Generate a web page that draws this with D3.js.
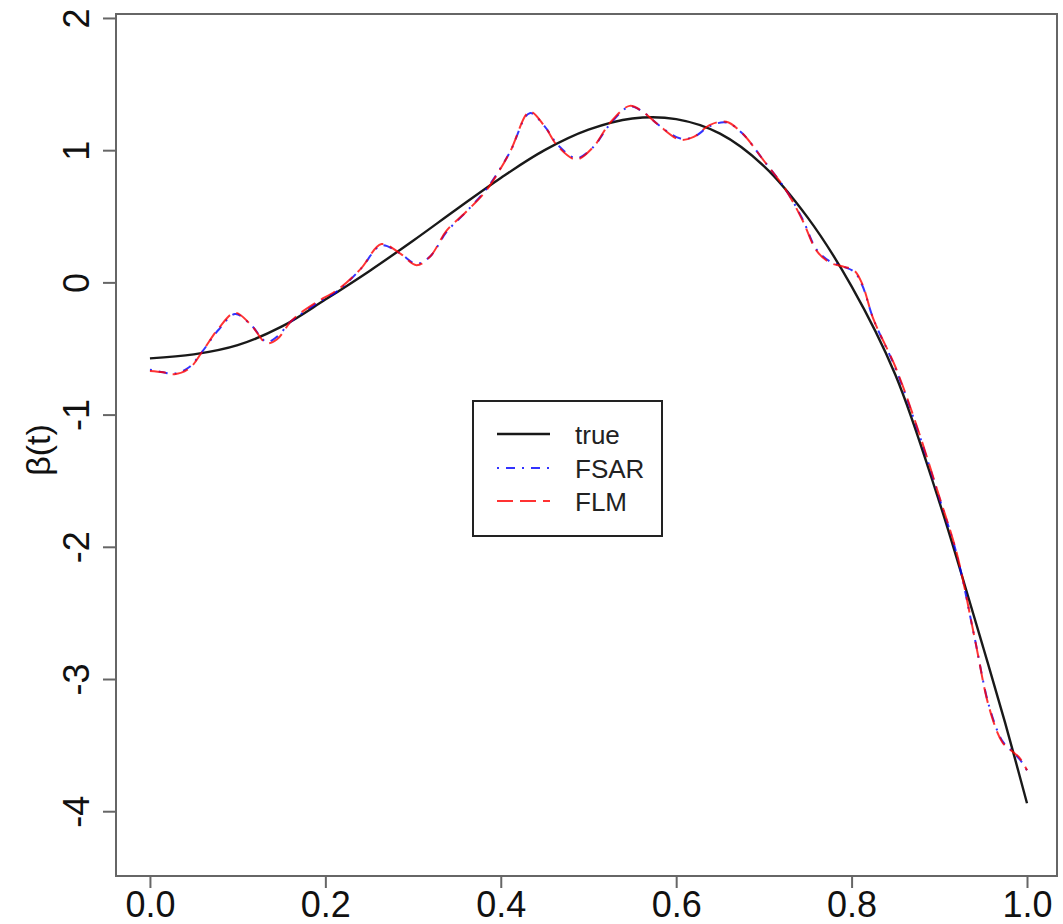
<!DOCTYPE html>
<html>
<head>
<meta charset="utf-8">
<script src="https://cdn.jsdelivr.net/npm/d3@7"></script>
<style>
  html, body { margin: 0; padding: 0; background: #fff; }
  svg { display: block; font-family: "Liberation Sans", Arial, sans-serif; }
</style>
</head>
<body>
<svg id="chart" width="1063" height="924"></svg>
<script>
// ---- data ----
const xTicks = [0.0, 0.2, 0.4, 0.6, 0.8, 1.0];
const yTicks = [2, 1, 0, -1, -2, -3, -4];

const trueT = [0, 0.05, 0.1, 0.15, 0.2, 0.25, 0.3, 0.35, 0.4, 0.45, 0.5, 0.55, 0.6, 0.65, 0.7, 0.75, 0.8, 0.85, 0.9, 0.925, 0.95, 0.975, 1.0];
const trueB = [-0.575, -0.545, -0.475, -0.335, -0.13, 0.085, 0.315, 0.555, 0.79, 1.00, 1.155, 1.24, 1.235, 1.125, 0.88, 0.49, -0.03, -0.70, -1.66, -2.20, -2.76, -3.33, -3.94];

const flmT = [0, 0.015, 0.028, 0.045, 0.06, 0.078, 0.097, 0.115, 0.133, 0.145, 0.16, 0.17, 0.19, 0.215, 0.24, 0.264, 0.285, 0.304, 0.32, 0.338, 0.36, 0.384, 0.41, 0.433, 0.45, 0.465, 0.486, 0.505, 0.525, 0.547, 0.562, 0.58, 0.604, 0.62, 0.638, 0.657, 0.675, 0.7, 0.725, 0.744, 0.76, 0.775, 0.79, 0.803, 0.812, 0.825, 0.85, 0.875, 0.9, 0.92, 0.94, 0.957, 0.972, 0.982, 0.992, 1.0];
const flmB = [-0.67, -0.68, -0.695, -0.65, -0.52, -0.35, -0.23, -0.32, -0.46, -0.43, -0.30, -0.24, -0.15, -0.05, 0.10, 0.29, 0.22, 0.13, 0.20, 0.39, 0.53, 0.70, 0.98, 1.29, 1.18, 1.03, 0.93, 1.02, 1.21, 1.335, 1.29, 1.19, 1.08, 1.10, 1.19, 1.215, 1.13, 0.92, 0.70, 0.47, 0.24, 0.15, 0.12, 0.09, -0.01, -0.28, -0.64, -1.10, -1.62, -2.05, -2.68, -3.22, -3.48, -3.54, -3.60, -3.69];

const fsarT = flmT;
const fsarB = [-0.66, -0.68, -0.69, -0.64, -0.52, -0.36, -0.24, -0.32, -0.45, -0.41, -0.30, -0.25, -0.16, -0.06, 0.10, 0.28, 0.22, 0.14, 0.20, 0.38, 0.53, 0.71, 0.98, 1.28, 1.18, 1.04, 0.94, 1.02, 1.20, 1.33, 1.29, 1.19, 1.09, 1.10, 1.18, 1.21, 1.13, 0.92, 0.70, 0.48, 0.25, 0.16, 0.12, 0.08, -0.02, -0.28, -0.65, -1.11, -1.63, -2.06, -2.68, -3.21, -3.47, -3.54, -3.61, -3.69];

const legendLabels = ["true", "FSAR", "FLM"];
const seriesColors = ["#000000", "#0000ff", "#ff0000"];
const seriesDash = [null, "2,7,9,7", "16,7"];

// ---- layout ----
const svg = d3.select("#chart");
const plot = { left: 116, right: 1057, top: 14, bottom: 876 };

const x = d3.scaleLinear().domain([-0.0387, 1.0342]).range([plot.left, plot.right]);
const y = d3.scaleLinear().domain([-4.49, 2.03]).range([plot.bottom, plot.top]);

// box
svg.append("rect")
  .attr("x", plot.left).attr("y", plot.top)
  .attr("width", plot.right - plot.left).attr("height", plot.bottom - plot.top)
  .attr("fill", "none").attr("stroke", "#666").attr("stroke-width", 2);

// x axis
const xAxis = d3.axisBottom(x).tickValues(xTicks).tickFormat(d3.format(".1f")).tickSize(12).tickPadding(3);
const gx = svg.append("g").attr("transform", `translate(0,${plot.bottom})`).call(xAxis);
gx.select(".domain").attr("stroke", "#666").attr("stroke-width", 2)
  .attr("d", `M${x(0)},0H${x(1)}`);
gx.selectAll(".tick line").attr("stroke", "#666").attr("stroke-width", 2);
gx.selectAll(".tick text").attr("font-size", 36).attr("fill", "#111")
  .attr("font-family", "Liberation Sans, Arial, sans-serif");

// y axis
const yAxis = d3.axisLeft(y).tickValues(yTicks).tickFormat(d => String(d)).tickSize(13);
const gy = svg.append("g").attr("transform", `translate(${plot.left},0)`).call(yAxis);
gy.select(".domain").attr("stroke", "#666").attr("stroke-width", 2)
  .attr("d", `M0,${y(-4)}V${y(2)}`);
gy.selectAll(".tick line").attr("stroke", "#666").attr("stroke-width", 2);
gy.selectAll(".tick text")
  .attr("font-size", 36).attr("fill", "#111")
  .attr("font-family", "Liberation Sans, Arial, sans-serif")
  .attr("x", null).attr("dy", null)
  .attr("text-anchor", "middle")
  .attr("transform", "translate(-27,0) rotate(-90)");

// y label
svg.append("text")
  .attr("transform", `translate(50,${(plot.top + plot.bottom) / 2 + 5}) rotate(-90)`)
  .attr("text-anchor", "middle")
  .attr("font-size", 34).attr("fill", "#111")
  .text("β(t)");

// lines
const line = d3.line().x(d => x(d[0])).y(d => y(d[1])).curve(d3.curveCatmullRom.alpha(0.5));
const series = [
  d3.zip(trueT, trueB),
  d3.zip(fsarT, fsarB),
  d3.zip(flmT, flmB)
];
const widths = [2.4, 2, 2];
series.forEach((pts, i) => {
  svg.append("path")
    .attr("d", line(pts))
    .attr("fill", "none")
    .attr("stroke", seriesColors[i])
    .attr("stroke-width", widths[i])
    .attr("stroke-dasharray", seriesDash[i])
    .attr("opacity", i === 0 ? 0.9 : 0.8);
});

// legend
const lg = svg.append("g");
lg.append("rect").attr("x", 473).attr("y", 401).attr("width", 189).attr("height", 135)
  .attr("fill", "#fff").attr("stroke", "#222").attr("stroke-width", 2);
const rowY = [434, 468, 501];
legendLabels.forEach((lab, i) => {
  lg.append("line").attr("x1", 497).attr("x2", 550).attr("y1", rowY[i]).attr("y2", rowY[i])
    .attr("stroke", seriesColors[i]).attr("stroke-width", widths[i])
    .attr("stroke-dasharray", seriesDash[i]).attr("opacity", i === 0 ? 0.9 : 0.8);
  lg.append("text").attr("x", 575).attr("y", rowY[i] + 10)
    .attr("font-size", 26).attr("fill", "#222").text(lab);
});
</script>
</body>
</html>
